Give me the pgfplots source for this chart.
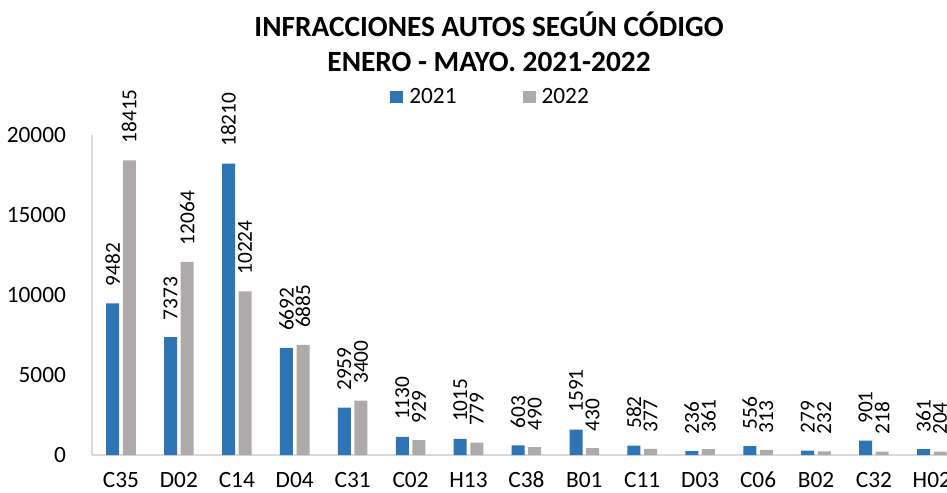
\documentclass[border=0pt]{standalone}
\usepackage{pgfplots}
\pgfplotsset{compat=1.18}
\usepackage{fontspec}
\setmainfont{Carlito}
\definecolor{b21}{HTML}{2E75B6}
\definecolor{g22}{HTML}{AEAAAA}
\definecolor{axl}{HTML}{D9D9D9}
\pgfplotsset{sqleg/.style={legend image code/.code={\fill[##1] (0pt,-4.5pt) rectangle (9.75pt,4.5pt);}}}
\begin{document}
\begin{tikzpicture}
\useasboundingbox (0,0) rectangle (710.25pt,369.75pt);
\clip (0,0) rectangle (710.25pt,369.75pt);
\begin{axis}[
 at={(69pt,28.5pt)}, anchor=south west, scale only axis,
 width=651.6pt, height=240pt,
 ybar=2.7pt, bar width=9.75pt,
 xmin=-0.5, xmax=14.5, ymin=0, ymax=20000,
 ytick={0,5000,...,20000},
 scaled y ticks=false,
 xtick={0,...,14},
 xticklabels={C35,D02,C14,D04,C31,C02,H13,C38,B01,C11,D03,C06,B02,C32,H02},
 axis lines*=left, axis line style={draw=axl, line width=1pt},
 major tick length=0pt,
 /pgf/number format/assume math mode=true,
 /pgf/number format/1000 sep={},
 tick label style={font=\fontsize{17.5}{20}\selectfont},
 yticklabel style={xshift=-16pt},
 xticklabel style={anchor=base, yshift=-24.25pt, inner sep=0pt},
 clip=false,
 title={INFRACCIONES AUTOS SEGÚN CÓDIGO\\ENERO - MAYO. 2021-2022},
 title style={at={(0.457,1.267)}, anchor=center, align=center, font=\bfseries\fontsize{22}{26}\selectfont},
 legend style={at={(0.343,1.119)}, anchor=west, draw=none, fill=none, inner sep=0pt, legend columns=2, font=\fontsize{17.5}{20}\selectfont, nodes={inner xsep=4.5pt}, /tikz/every even column/.append style={column sep=45pt}},
 nodes near coords,
 every node near coord/.append style={rotate=90, anchor=west, font=\fontsize{16}{18}\selectfont, inner xsep=12.5pt, inner ysep=0pt, black},
]
\addplot[fill=b21, draw=none, sqleg] coordinates {
(0,9482) (1,7373) (2,18210) (3,6692) (4,2959) (5,1130) (6,1015) (7,603) (8,1591) (9,582) (10,236) (11,556) (12,279) (13,901) (14,361)};
\addplot[fill=g22, draw=none, sqleg] coordinates {
(0,18415) (1,12064) (2,10224) (3,6885) (4,3400) (5,929) (6,779) (7,490) (8,430) (9,377) (10,361) (11,313) (12,232) (13,218) (14,204)};
\legend{2021,2022}
\end{axis}
\end{tikzpicture}
\end{document}
